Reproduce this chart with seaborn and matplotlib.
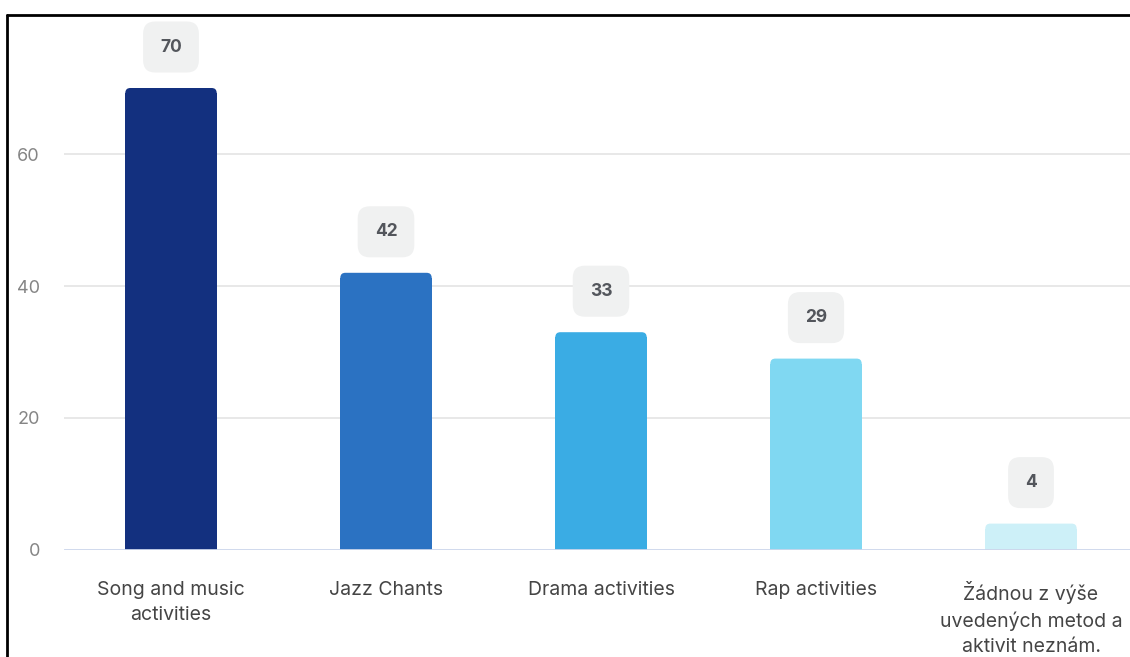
import matplotlib
matplotlib.use("Agg")
import matplotlib.pyplot as plt
import seaborn as sns
import pandas as pd
from matplotlib.patches import FancyBboxPatch, Rectangle
from matplotlib.lines import Line2D

categories = [
    "Song and music\nactivities",
    "Jazz Chants",
    "Drama activities",
    "Rap activities",
    "Žádnou z výše\nuvedených metod a\naktivit neznám.",
]
counts = [70, 42, 33, 29, 4]
bar_colors = ["#13307f", "#2b72c2", "#3aace4", "#80d8f2", "#cdf0f8"]
y_ticks = [0, 20, 40, 60]

sns.set_theme(style="white")
plt.rcParams["font.family"] = ["Inter", "DejaVu Sans"]

W, H, DPI = 1130, 657, 100
fig = plt.figure(figsize=(W / DPI, H / DPI), dpi=DPI)
fig.patch.set_facecolor("white")

ax_left, ax_right = 63.5, 1138.5
ax_bottom, ax_top = 550, 22
ax = fig.add_axes([ax_left / W, (H - ax_bottom) / H,
                   (ax_right - ax_left) / W, (ax_bottom - ax_top) / H])

df = pd.DataFrame({"category": categories, "count": counts})
sns.barplot(data=df, x="category", y="count", hue="category",
            palette=bar_colors, width=0.425, legend=False, ax=ax,
            saturation=1, zorder=3)

ax.set_ylim(0, 80)
ax.set_xlim(-0.5, len(categories) - 0.5)

# px -> data scale factors for rounded tops
px_per_y = (ax_bottom - ax_top) / 80.0
px_per_x = (ax_right - ax_left) / len(categories)
r_px = 5
for p, c in zip(list(ax.patches), bar_colors):
    x, w, h = p.get_x(), p.get_width(), p.get_height()
    p.remove()
    r_x = r_px / px_per_x
    aspect = px_per_x / px_per_y
    top = FancyBboxPatch((x, 0), w, h,
                         boxstyle=f"round,pad=0,rounding_size={r_x}",
                         mutation_aspect=aspect, facecolor=c,
                         edgecolor="none", zorder=3)
    ax.add_patch(top)
    ax.add_patch(Rectangle((x, 0), w, h - r_px / px_per_y,
                           facecolor=c, edgecolor="none", zorder=3))
    # value label in a rounded grey box
    cx = x + w / 2
    ax.annotate(f"{int(round(h))}", xy=(cx, h), xytext=(0, 41),
                textcoords="offset pixels", ha="center", va="center",
                fontsize=12.5, fontweight="bold", color="#53565c",
                bbox=dict(boxstyle="round,pad=0.98,rounding_size=0.7",
                          facecolor="#f0f1f1", edgecolor="none"),
                zorder=5, annotation_clip=False)

# grid
ax.set_yticks(y_ticks)
for yv in y_ticks[1:]:
    ax.axhline(yv, color="#e6e6e6", lw=1.3, zorder=1)
ax.axhline(0, color="#ccd6eb", lw=2, zorder=4)

for s in ax.spines.values():
    s.set_visible(False)
ax.tick_params(axis="y", length=0, pad=17, labelsize=13, labelcolor="#858585")
ax.tick_params(axis="x", length=0, pad=22, labelsize=14, labelcolor="#454545")
for lbl in ax.get_xticklabels():
    lbl.set_linespacing(1.5)
ax.set_xlabel("")
ax.set_ylabel("")

# outer frame (top and left edges)
fig.add_artist(Line2D([7 / W, 1.0], [1 - 15 / H, 1 - 15 / H],
                      transform=fig.transFigure, color="black", lw=2))
fig.add_artist(Line2D([7 / W, 7 / W], [0, 1 - 15 / H],
                      transform=fig.transFigure, color="black", lw=2))

fig.savefig("out.png", dpi=DPI)
